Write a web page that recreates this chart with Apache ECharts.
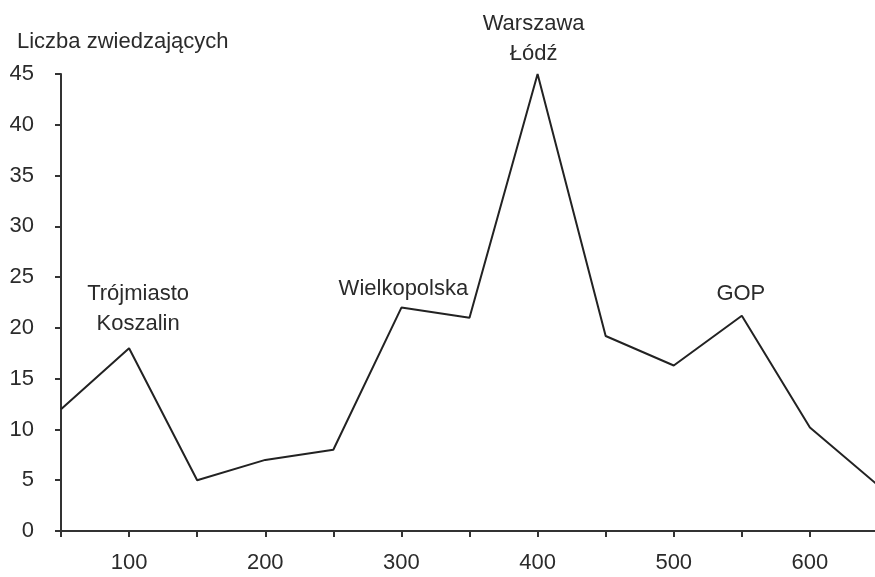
<!DOCTYPE html>
<html>
<head>
<meta charset="utf-8">
<script src="https://cdn.jsdelivr.net/npm/echarts@6/dist/echarts.min.js"></script>
<style>
html,body{margin:0;padding:0;background:#fff;overflow:hidden;}
#chart{width:875px;height:577px;}
</style>
</head>
<body>
<div id="chart"></div>
<script>
var xValues = [50, 100, 150, 200, 250, 300, 350, 400, 450, 500, 550, 600, 650];
var visitors = [12, 18, 5, 7, 8, 22, 21, 45, 19.2, 16.3, 21.2, 10.2, 4.5];
var yTicks = [0, 5, 10, 15, 20, 25, 30, 35, 40, 45];
var xTickLabels = [100, 200, 300, 400, 500, 600];
var yAxisTitle = 'Liczba zwiedzających';
var annotationX = [100, 300, 400, 550];
var annotationText = ['Trójmiasto\nKoszalin', 'Wielkopolska', 'Warszawa\nŁódź', 'GOP'];

var FONT = "'Liberation Sans', Arial, Helvetica, sans-serif";
var TXT = '#2b2b2b';
// horizontal shift (px) of each annotation, applied through padding
var labelShift = {100: 9, 300: 2, 400: -4, 550: -1};
var labelDist = {100: 9, 300: 4, 400: 5, 550: 7};

var seriesData = xValues.map(function (x, i) {
  var idx = annotationX.indexOf(x);
  var item = { value: [x, visitors[i]] };
  if (idx >= 0) {
    var s = labelShift[x];
    item.label = {
      show: true,
      position: 'top',
      distance: labelDist[x],
      formatter: annotationText[idx],
      fontFamily: FONT,
      fontSize: 22,
      lineHeight: 30,
      color: TXT,
      align: 'center',
      padding: [0, s < 0 ? -2 * s : 0, 0, s > 0 ? 2 * s : 0]
    };
  }
  return item;
});

var chart = echarts.init(document.getElementById('chart'), null, { renderer: 'canvas' });
chart.setOption({
  backgroundColor: '#ffffff',
  animation: false,
  title: {
    text: yAxisTitle,
    left: 12,
    top: 26,
    textStyle: { fontFamily: FONT, fontSize: 22, fontWeight: 'normal', color: TXT }
  },
  grid: { left: 61, width: 817, top: 74, bottom: 46, containLabel: false, outerBoundsMode: 'none' },
  xAxis: {
    type: 'value',
    min: 50,
    max: 650,
    interval: 50,
    splitLine: { show: false },
    axisLine: { show: true, lineStyle: { color: '#333', width: 2 } },
    axisTick: { show: true, inside: false, length: 6, lineStyle: { color: '#333', width: 2 } },
    axisLabel: {
      margin: 21,
      fontFamily: FONT,
      fontSize: 22,
      color: TXT,
      showMinLabel: true,
      showMaxLabel: true,
      formatter: function (v) { return xTickLabels.indexOf(v) >= 0 ? String(v) : ''; }
    }
  },
  yAxis: {
    type: 'value',
    min: yTicks[0],
    max: yTicks[yTicks.length - 1],
    interval: 5,
    splitLine: { show: false },
    axisLine: { show: true, lineStyle: { color: '#333', width: 2 } },
    axisTick: { show: true, inside: false, length: 6, lineStyle: { color: '#333', width: 2 } },
    axisLabel: { margin: 27, fontFamily: FONT, fontSize: 22, color: TXT }
  },
  series: [{
    type: 'line',
    data: seriesData,
    symbol: 'circle',
    symbolSize: 0,
    showSymbol: true,
    itemStyle: { color: '#222' },
    lineStyle: { color: '#222', width: 2 },
    clip: true,
    z: 3
  }]
});
</script>
</body>
</html>
